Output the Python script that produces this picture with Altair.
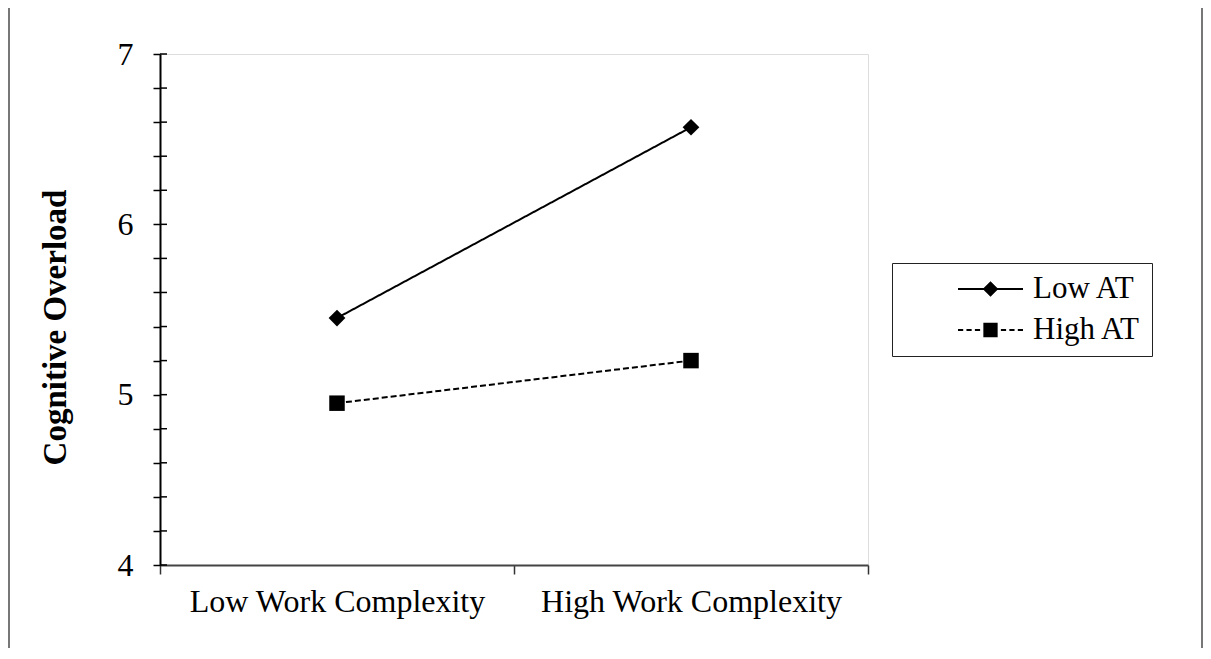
import altair as alt
import pandas as pd

complexity = ["Low Work Complexity", "High Work Complexity"]
groups = ["Low AT", "High AT"]
low_at = [5.45, 6.57]
high_at = [4.95, 5.20]
y_ticks = [4.0, 4.2, 4.4, 4.6, 4.8, 5.0, 5.2, 5.4, 5.6, 5.8, 6.0,
           6.2, 6.4, 6.6, 6.8, 7.0]

rows = []
for c, v in zip(complexity, low_at):
    rows.append({"complexity": c, "group": "Low AT", "value": v})
for c, v in zip(complexity, high_at):
    rows.append({"complexity": c, "group": "High AT", "value": v})
df = pd.DataFrame(rows)
ticks_df = pd.DataFrame({"value": y_ticks})

FONT = "Liberation Serif"
W, H = 708, 511

x_enc = alt.X("complexity:N", sort=complexity,
              scale=alt.Scale(type="band", paddingInner=0, paddingOuter=0),
              axis=alt.Axis(title=None, tickBand="extent", labelAngle=0,
                            labelFontSize=32, labelFont=FONT, labelColor="black",
                            tickSize=9, tickColor="#333", tickWidth=1.5,
                            domainColor="#444", domainWidth=2, labelPadding=12,
                            labelLimit=400))
y_axis = alt.Axis(title="Cognitive Overload", values=y_ticks,
                  labelExpr="abs(datum.value - round(datum.value)) < 0.001 ? format(datum.value, 'd') : ''",
                  labelFontSize=32, labelFont=FONT, labelColor="black",
                  titleFontSize=33, titleFont=FONT, titleFontWeight="bold",
                  titleColor="black", titlePadding=45, titleY=273,
                  tickSize=7, tickColor="black", tickWidth=1.5,
                  domainColor="black", domainWidth=2, labelPadding=20,
                  grid=False)
y_scale = alt.Scale(domain=[4, 7], nice=False, zero=False)
y_enc = alt.Y("value:Q", scale=y_scale, axis=y_axis)

lines = alt.Chart(df).mark_line(color="black", strokeWidth=2).encode(
    x=x_enc, y=y_enc,
    strokeDash=alt.StrokeDash("group:N", scale=alt.Scale(domain=groups, range=[[1, 0], [6, 3]]), legend=None),
    detail="group:N",
)

diamonds = alt.Chart(df).transform_filter(alt.datum.group == "Low AT").mark_point(
    shape="diamond", filled=True, color="black", size=280, opacity=1).encode(x=x_enc, y=y_enc)
squares = alt.Chart(df).transform_filter(alt.datum.group == "High AT").mark_point(
    shape="square", filled=True, color="black", size=240, opacity=1).encode(x=x_enc, y=y_enc)

# legend glyphs: line drawn as thin filled bars plus the marker
low_path = ("M-1,-0.033L1,-0.033L1,0.033L-1,0.033Z"
            "M0,-0.24L0.24,0L0,0.24L-0.24,0Z")
high_path = ("M-1,-0.033L-0.84,-0.033L-0.84,0.033L-1,0.033Z"
             "M-0.74,-0.033L-0.58,-0.033L-0.58,0.033L-0.74,0.033Z"
             "M-0.48,-0.033L-0.32,-0.033L-0.32,0.033L-0.48,0.033Z"
             "M-0.22,-0.22L0.22,-0.22L0.22,0.22L-0.22,0.22Z"
             "M0.32,-0.033L0.48,-0.033L0.48,0.033L0.32,0.033Z"
             "M0.58,-0.033L0.74,-0.033L0.74,0.033L0.58,0.033Z"
             "M0.84,-0.033L1,-0.033L1,0.033L0.84,0.033Z")

legend_layer = alt.Chart(df).mark_point(filled=True, color="black", opacity=0.001, size=4225).encode(
    x=x_enc, y=y_enc,
    shape=alt.Shape("group:N", scale=alt.Scale(domain=groups, range=[low_path, high_path]),
                    legend=alt.Legend(title=None, orient="none", legendX=732, legendY=209,
                                      strokeColor="#222", fillColor="white", padding=11,
                                      symbolOffset=55, symbolSize=4225, labelOffset=10,
                                      labelFontSize=31, labelFont=FONT, labelColor="black",
                                      clipHeight=30, rowPadding=10,
                                      symbolFillColor="black", symbolStrokeWidth=0,
                                      symbolOpacity=1)),
)

inner_ticks = alt.Chart(ticks_df).mark_rule(color="black", strokeWidth=1.5).encode(
    y=y_enc,
    x=alt.value(0), x2=alt.value(7),
)

border_l = alt.Chart(ticks_df).mark_rule(color="#777", strokeWidth=2).encode(
    x=alt.value(-151), y=alt.value(-46), y2=alt.value(H + 83))
border_r = alt.Chart(ticks_df).mark_rule(color="#777", strokeWidth=2).encode(
    x=alt.value(W + 335 - 1), y=alt.value(-46), y2=alt.value(H + 83))

chart = alt.layer(legend_layer, border_l, border_r, lines, inner_ticks, diamonds, squares).properties(
    width=W, height=H,
    autosize=alt.AutoSizeParams(type="none"),
    padding={"left": 152, "top": 46, "right": 335, "bottom": 83},
).configure_view(stroke="#777", strokeWidth=2).configure(font=FONT, background="white")

chart.save("out.html", embed_options={"renderer": "svg", "actions": False})
